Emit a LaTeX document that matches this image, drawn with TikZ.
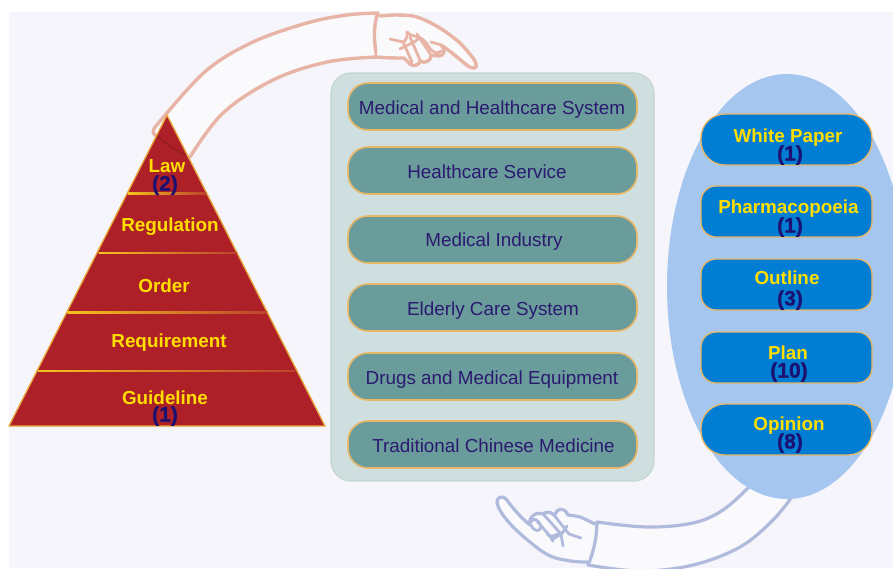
\documentclass[tikz,border=0pt]{standalone}
\usepackage{fontspec}
\setmainfont{Liberation Sans}
\usetikzlibrary{shapes.geometric}
\definecolor{pagebg}{HTML}{F5F5FB}
\definecolor{redfill}{HTML}{AE2027}
\definecolor{goldline}{HTML}{E8A83C}
\definecolor{yellowtext}{HTML}{FFDE00}
\definecolor{navytext}{HTML}{1C1070}
\definecolor{midtext}{HTML}{2A1A70}
\definecolor{panelfill}{HTML}{CFDEDF}
\definecolor{panelline}{HTML}{C4D6CE}
\definecolor{tealfill}{HTML}{6B9C9C}
\definecolor{boxline}{HTML}{E8B766}
\definecolor{ovalfill}{HTML}{A5C6EE}
\definecolor{bluefill}{HTML}{017DD3}
\definecolor{armfill}{HTML}{FAFAFC}
\definecolor{armred}{HTML}{E8B4A6}
\definecolor{armblue}{HTML}{B0BADD}
\tikzset{
  txt/.style={inner sep=0pt,text height=13.6pt,text depth=0pt,anchor=center},
  yel/.style={txt,text=yellowtext,font=\fontsize{18.85}{20}\selectfont\bfseries},
  num/.style={txt,text=navytext,font=\fontsize{21}{22}\selectfont\bfseries\addfontfeature{FakeBold=0.8},text height=15pt},
  midlabel/.style={txt,text=midtext,font=\fontsize{18.85}{20}\selectfont},
  tealbox/.style={draw=boxline,line width=1.6pt,fill=tealfill,rounded corners=20pt,minimum width=289pt,minimum height=47pt,inner sep=0pt},
  bluebox/.style={draw=boxline,line width=1.3pt,fill=bluefill,rounded corners=15pt,minimum width=171pt,minimum height=51pt,inner sep=0pt},
  bigbluebox/.style={bluebox,rounded corners=24pt},
  armr/.style={draw=armred,line width=3.4pt,line join=round,line cap=round},
  armb/.style={draw=armblue,line width=3.2pt,line join=round,line cap=round},
  fingerr/.style={armr,line width=2.8pt},
  fingerb/.style={armb,line width=2.8pt},
}
\begin{document}
\begin{tikzpicture}[x=1pt,y=-1pt]
\useasboundingbox (0,0) rectangle (893,568);
\clip (0,0) rectangle (893,568);
\fill[white] (0,0) rectangle (893,568);
\fill[pagebg] (9,12) rectangle (893,568);

% upper arm and hand
\fill[armfill] plot[smooth,tension=.6] coordinates {(154,131) (167,113) (207,70) (253,42) (307,23) (347,15) (378,13)}
  -- plot[smooth,tension=.6] coordinates {(377,57) (327,62) (273,80) (223,113) (190,157)} -- cycle;
\draw[armr] plot[smooth,tension=.6] coordinates {(167,113) (207,70) (253,42) (307,23) (347,15) (378,13)};
\draw[armr] (167,113) -- (155,127) .. controls (152,131) and (153,134) .. (156,136);
\draw[armr] plot[smooth,tension=.6] coordinates {(190,157) (223,113) (273,80) (327,62) (377,57)};
\draw[armr] (378,13) .. controls (374,22) and (373,40) .. (377,57);
\draw[armr,fill=armfill] plot[smooth,tension=.45] coordinates {(380,16) (395,15) (413,16) (427,21) (443,30) (460,43) (473,58) (476,64)}
  .. controls (478,69) and (472,69) .. (468,66)
  .. controls (460,60) and (452,52) .. (441,45)
  .. controls (446,49) and (445,56) .. (438,56)
  .. controls (436,55) and (433,55) .. (431,56)
  .. controls (431,61) and (424,64) .. (420,61)
  .. controls (420,65) and (413,67) .. (410,64)
  .. controls (408,62) and (406,60) .. (404,58)
  .. controls (397,58) and (385,58) .. (377,57);
\draw[fingerr] (390,39) -- (403,42) -- (412,62);
\draw[fingerr] (407,32) .. controls (408,36) and (406,40) .. (403,43);
\draw[fingerr] (410,37) -- (420,60) (417,34) -- (431,55);
\draw[fingerr] (407,32) .. controls (412,38) and (420,34) .. (427,44) (400,49) .. controls (404,46) and (414,44) .. (420,37);
\draw[fingerr] (427,44) .. controls (432,53) and (438,55) .. (441,51) (431,42) -- (441,45);

% lower arm and hand
\fill[armfill] plot[smooth,tension=.6] coordinates {(597,522) (647,527) (693,523) (723,510) (750,486)}
  -- plot[smooth,tension=.6] coordinates {(794,494) (773,520) (740,547) (693,565) (640,571) (588,565)} -- cycle;
\draw[armb] plot[smooth,tension=.6] coordinates {(597,522) (647,527) (693,523) (723,510) (750,486)};
\draw[armb] plot[smooth,tension=.6] coordinates {(588,565) (640,571) (693,565) (740,547) (773,520) (794,494)};
\draw[armb] (597,522) .. controls (597,535) and (594,552) .. (588,565);
\draw[armb,fill=armfill] plot[smooth,tension=.45] coordinates {(595,524) (580,517) (568,515)}
  .. controls (566,509) and (560,508) .. (557,511)
  .. controls (555,514) and (555,515) .. (554,515)
  .. controls (550,511) and (546,512) .. (543,514)
  .. controls (538,512) and (532,514) .. (530,520)
  .. controls (529,523) and (530,525) .. (530,525)
  .. controls (520,517) and (512,507) .. (506,499)
  .. controls (503,495) and (496,497) .. (497,503)
  .. controls (500,515) and (515,530) .. (530,542)
  .. controls (542,552) and (550,558) .. (565,560)
  .. controls (575,562) and (582,562) .. (588,562);
\draw[fingerb] (581,538) -- (569,534) -- (554,515) (563,546) -- (561,534) -- (544,515);
\draw[fingerb] (553,541) -- (550,536) -- (536,520);
\draw[fingerb] (547,534) .. controls (553,540) and (557,532) .. (563,533) (552,540) .. controls (556,536) and (562,536) .. (567,526);
\draw[fingerb] (531,525) .. controls (534,532) and (540,532) .. (541,527) .. controls (539,519) and (533,517) .. (531,522);

% pyramid
\fill[redfill] (167,115) -- (325,426) -- (9,426) -- cycle;
\draw[redfill!88!black,line width=2pt] (157,136) .. controls (167,144) and (175,150) .. (185,155);
\draw[goldline,line width=1.3pt,line join=round] (167,115) -- (325,426) -- (9,426) -- cycle;
\shade[left color=goldline!50!yellowtext,right color=redfill!75!goldline] (128,192.8) rectangle (206,194.3);
\shade[left color=goldline!50!yellowtext,right color=redfill!75!goldline] (98.5,252.4) rectangle (237,253.9);
\shade[left color=goldline!50!yellowtext,right color=redfill!75!goldline] (67.5,311.8) rectangle (267,313.3);
\shade[left color=goldline!50!yellowtext,right color=redfill!75!goldline] (38,370) rectangle (295,371.5);

\node[yel] (law) at (167,166) {Law};
\node[num] (lawn) at (165,183) {(2)};
\node[yel] (regulation) at (170,225) {Regulation};
\node[yel] (order) at (164,286) {Order};
\node[yel] (requirement) at (169,341) {Requirement};
\node[yel] (guideline) at (165,398) {Guideline};
\node[num] (guiden) at (165,414) {(1)};

% central panel
\node[draw=panelline,line width=1.2pt,fill=panelfill,rounded corners=20pt,minimum width=323pt,minimum height=408pt,inner sep=0pt] (panel) at (492.5,277) {};
\node[tealbox] (b1) at (492.5,106.5) {};
\node[tealbox] (b2) at (492.5,170.5) {};
\node[tealbox] (b3) at (492.5,239.5) {};
\node[tealbox] (b4) at (492.5,307.5) {};
\node[tealbox] (b5) at (492.5,376.5) {};
\node[tealbox] (b6) at (492.5,444.5) {};
\node[midlabel] (t1) at (492,108) {Medical and Healthcare System};
\node[midlabel] (t2) at (487,172) {Healthcare Service};
\node[midlabel] (t3) at (494,240) {Medical Industry};
\node[midlabel] (t4) at (493,309) {Elderly Care System};
\node[midlabel] (t5) at (492,378) {Drugs and Medical Equipment};
\node[midlabel] (t6) at (493.5,446) {Traditional Chinese Medicine};

% right oval
\node[ellipse,fill=ovalfill,minimum width=240pt,minimum height=425pt,inner sep=0pt] (oval) at (787,286.5) {};
\node[bigbluebox] (r1) at (786.5,139.5) {};
\node[bluebox] (r2) at (786.5,211.5) {};
\node[bluebox] (r3) at (786.5,284.5) {};
\node[bluebox] (r4) at (786.5,357.5) {};
\node[bigbluebox] (r5) at (786.5,429.5) {};
\node[yel] (rt1) at (788,136) {White Paper};
\node[num] (rn1) at (790,153) {(1)};
\node[yel] (rt2) at (788.5,206.5) {Pharmacopoeia};
\node[num] (rn2) at (790,225) {(1)};
\node[yel] (rt3) at (787,278) {Outline};
\node[num] (rn3) at (790,298) {(3)};
\node[yel] (rt4) at (788,353) {Plan};
\node[num] (rn4) at (789,370) {(10)};
\node[yel] (rt5) at (789,423.5) {Opinion};
\node[num] (rn5) at (790,441) {(8)};
\end{tikzpicture}
\end{document}
